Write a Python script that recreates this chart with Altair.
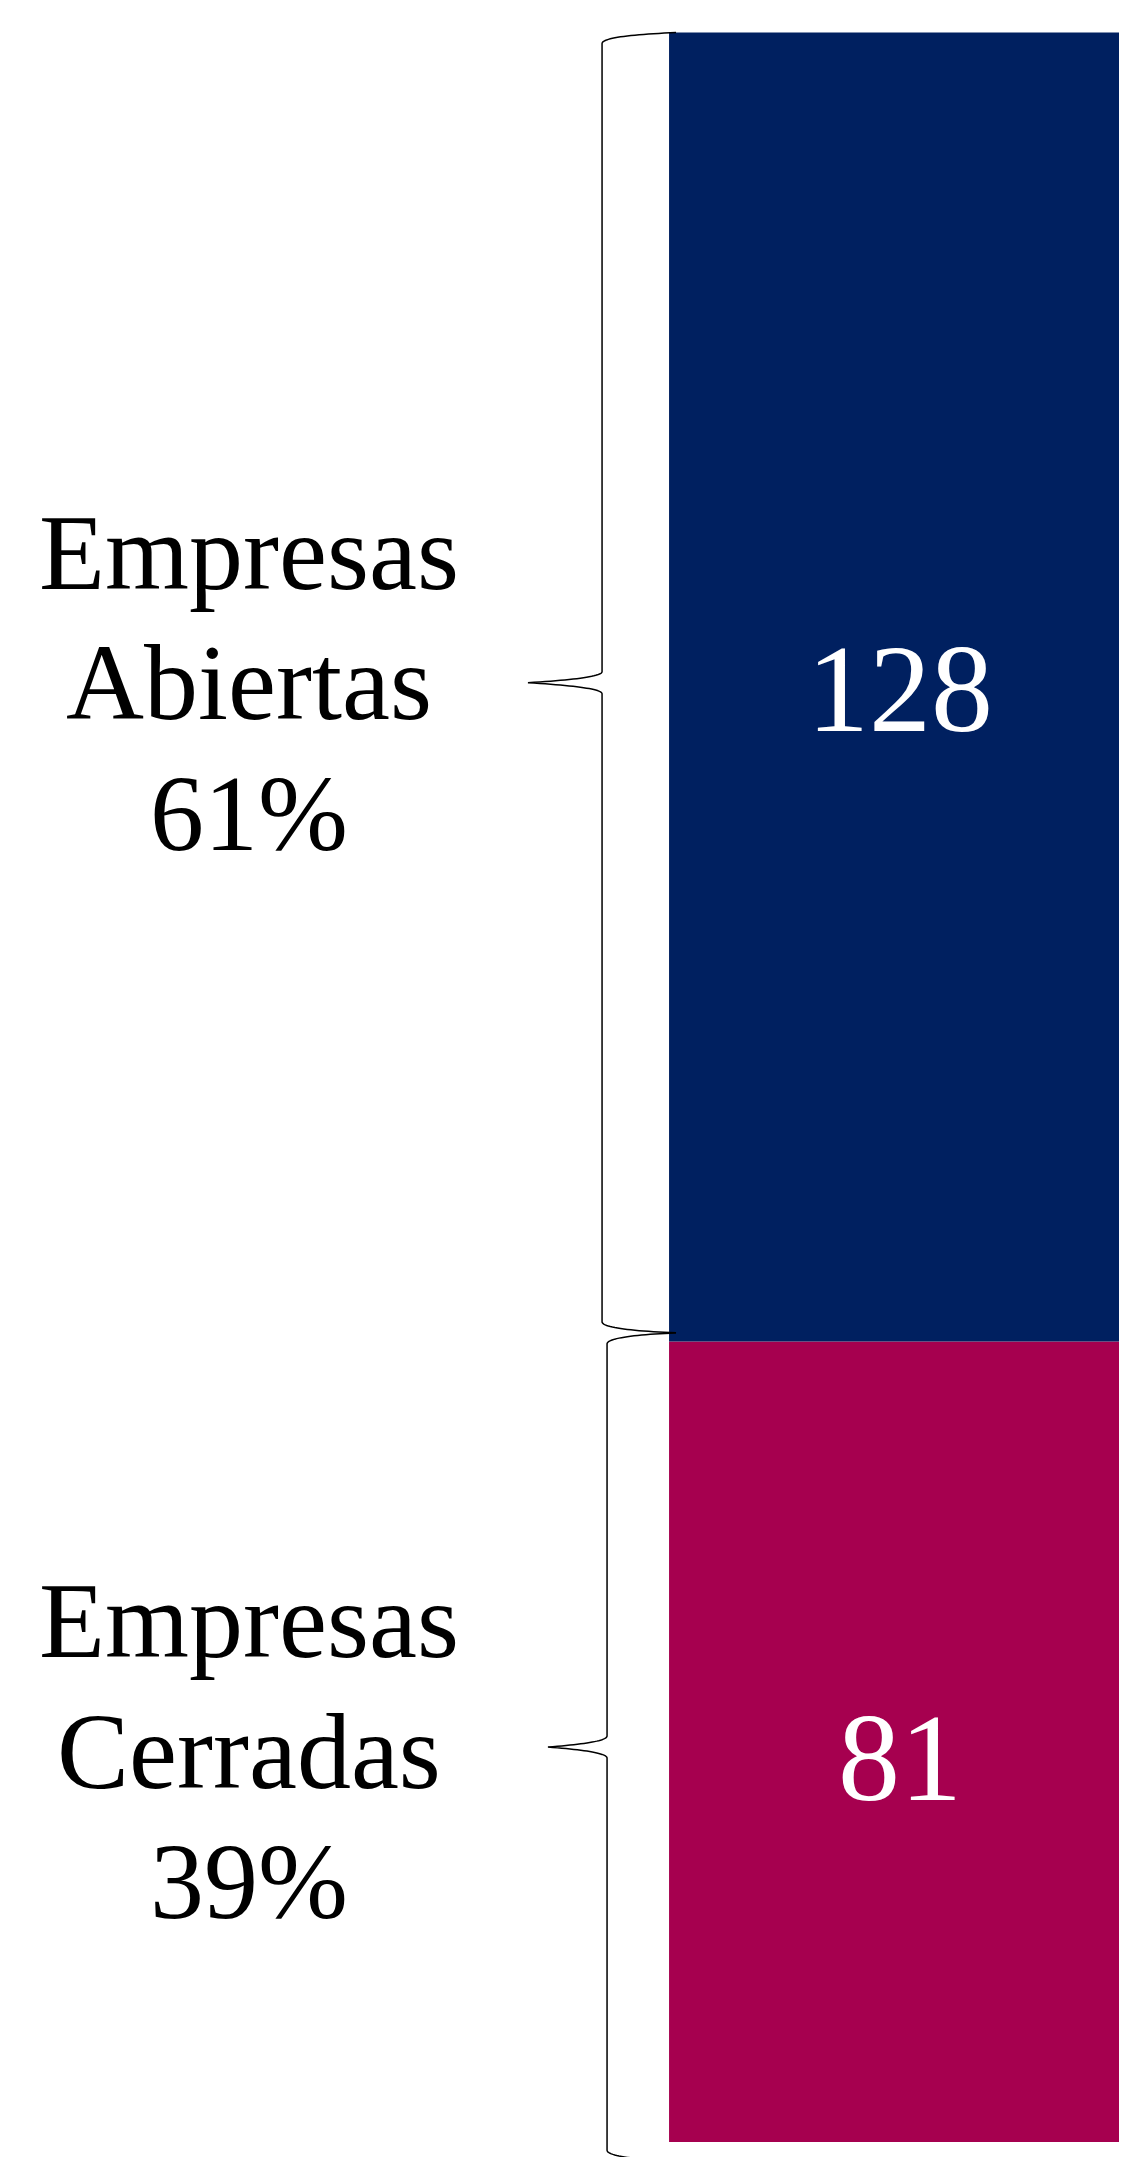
import altair as alt
import numpy as np
import pandas as pd

# ---------------- data ----------------
categories = ["Empresas Abiertas", "Empresas Cerradas"]
values = [128, 81]
colors = ["#002060", "#A6004F"]

# ---------------- layout / style ----------------
W, H = 1111, 2134
Y_DOMAIN = [2.73, 211.4]
BAR_X0, BAR_X1 = 0.5950, 1.0108
LABEL_X = 0.2169
BRACE_END_X = 0.6013
BRACE_X = {"Empresas Abiertas": (0.5347, 0.4680), "Empresas Cerradas": (0.5392, 0.4860)}
BRACE_H = 1.08      # curl height, in value units
BRACE_SHIFT = 0.85  # braces sit slightly above their segment
FONT = "Liberation Serif"
LABEL_SIZE, LABEL_LH = 108, 130.5
VALUE_SIZE = 124

total = sum(values)
rows = []
base = 0
for cat, val in zip(reversed(categories), reversed(values)):
    rows.append(dict(cat=cat, y0=base, y1=base + val, value=val))
    base += val
seg = pd.DataFrame(rows)
seg["mid"] = (seg["y0"] + seg["y1"]) / 2
seg["pct"] = (seg["value"] / total * 100).round().astype(int).astype(str) + "%"
seg["label"] = seg["cat"].str.replace(" ", "\n") + "\n" + seg["pct"]
seg["vtext"] = seg["value"].astype(str)


def qbez(p0, c, p1, n=25):
    t = np.linspace(0, 1, n)
    x = (1 - t) ** 2 * p0[0] + 2 * t * (1 - t) * c[0] + t ** 2 * p1[0]
    y = (1 - t) ** 2 * p0[1] + 2 * t * (1 - t) * c[1] + t ** 2 * p1[1]
    return list(zip(x, y))


brace_rows = []
for _, r in seg.iterrows():
    xv, xt = BRACE_X[r["cat"]]
    a = r["y0"] + BRACE_SHIFT
    b = min(r["y1"] + BRACE_SHIFT, total)
    m = (a + b) / 2
    h = BRACE_H
    pts = []
    pts += qbez((BRACE_END_X, b), (xv, b - 0.28 * h), (xv, b - h))
    pts += qbez((xv, m + h), (xv, m + 0.4 * h), (xt, m))
    pts += qbez((xt, m), (xv, m - 0.4 * h), (xv, m - h))
    pts += qbez((xv, a + h), (xv, a + 0.28 * h), (BRACE_END_X, a))
    for i, (px, py) in enumerate(pts):
        brace_rows.append(dict(cat=r["cat"], i=i, bx=px, by=py))
braces = pd.DataFrame(brace_rows)

xs = alt.Scale(domain=[0, 1])
ys = alt.Scale(domain=Y_DOMAIN)

bars = alt.Chart(seg).mark_bar(clip=True).encode(
    x=alt.X(datum=BAR_X0, type="quantitative", scale=xs, axis=None),
    x2=alt.datum(BAR_X1),
    y=alt.Y("y0:Q", scale=ys, axis=None),
    y2="y1:Q",
    color=alt.Color("cat:N", scale=alt.Scale(domain=categories, range=colors), legend=None),
)

value_text = alt.Chart(seg).mark_text(
    font=FONT, fontSize=VALUE_SIZE, color="white", align="center", baseline="middle", dy=7
).encode(
    x=alt.X(datum=(BAR_X0 + BAR_X1) / 2, type="quantitative", scale=xs, axis=None),
    y=alt.Y("mid:Q", scale=ys, axis=None),
    text="vtext:N",
)

labels = alt.Chart(seg).mark_text(
    font=FONT, fontSize=LABEL_SIZE, color="black", align="center", baseline="middle",
    lineBreak="\n", lineHeight=LABEL_LH, dy=-LABEL_LH
).encode(
    x=alt.X(datum=LABEL_X, type="quantitative", scale=xs, axis=None),
    y=alt.Y("mid:Q", scale=ys, axis=None),
    text="label:N",
)

brace_lines = alt.Chart(braces).mark_line(
    color="black", strokeWidth=1.5
).encode(
    x=alt.X("bx:Q", scale=xs, axis=None),
    y=alt.Y("by:Q", scale=ys, axis=None),
    detail="cat:N",
    order="i:Q",
)

chart = alt.layer(bars, brace_lines, value_text, labels).properties(
    width=W, height=H, padding=0
).configure_view(stroke=None)

chart.save("out.html", embed_options={"renderer": "svg", "actions": False})
